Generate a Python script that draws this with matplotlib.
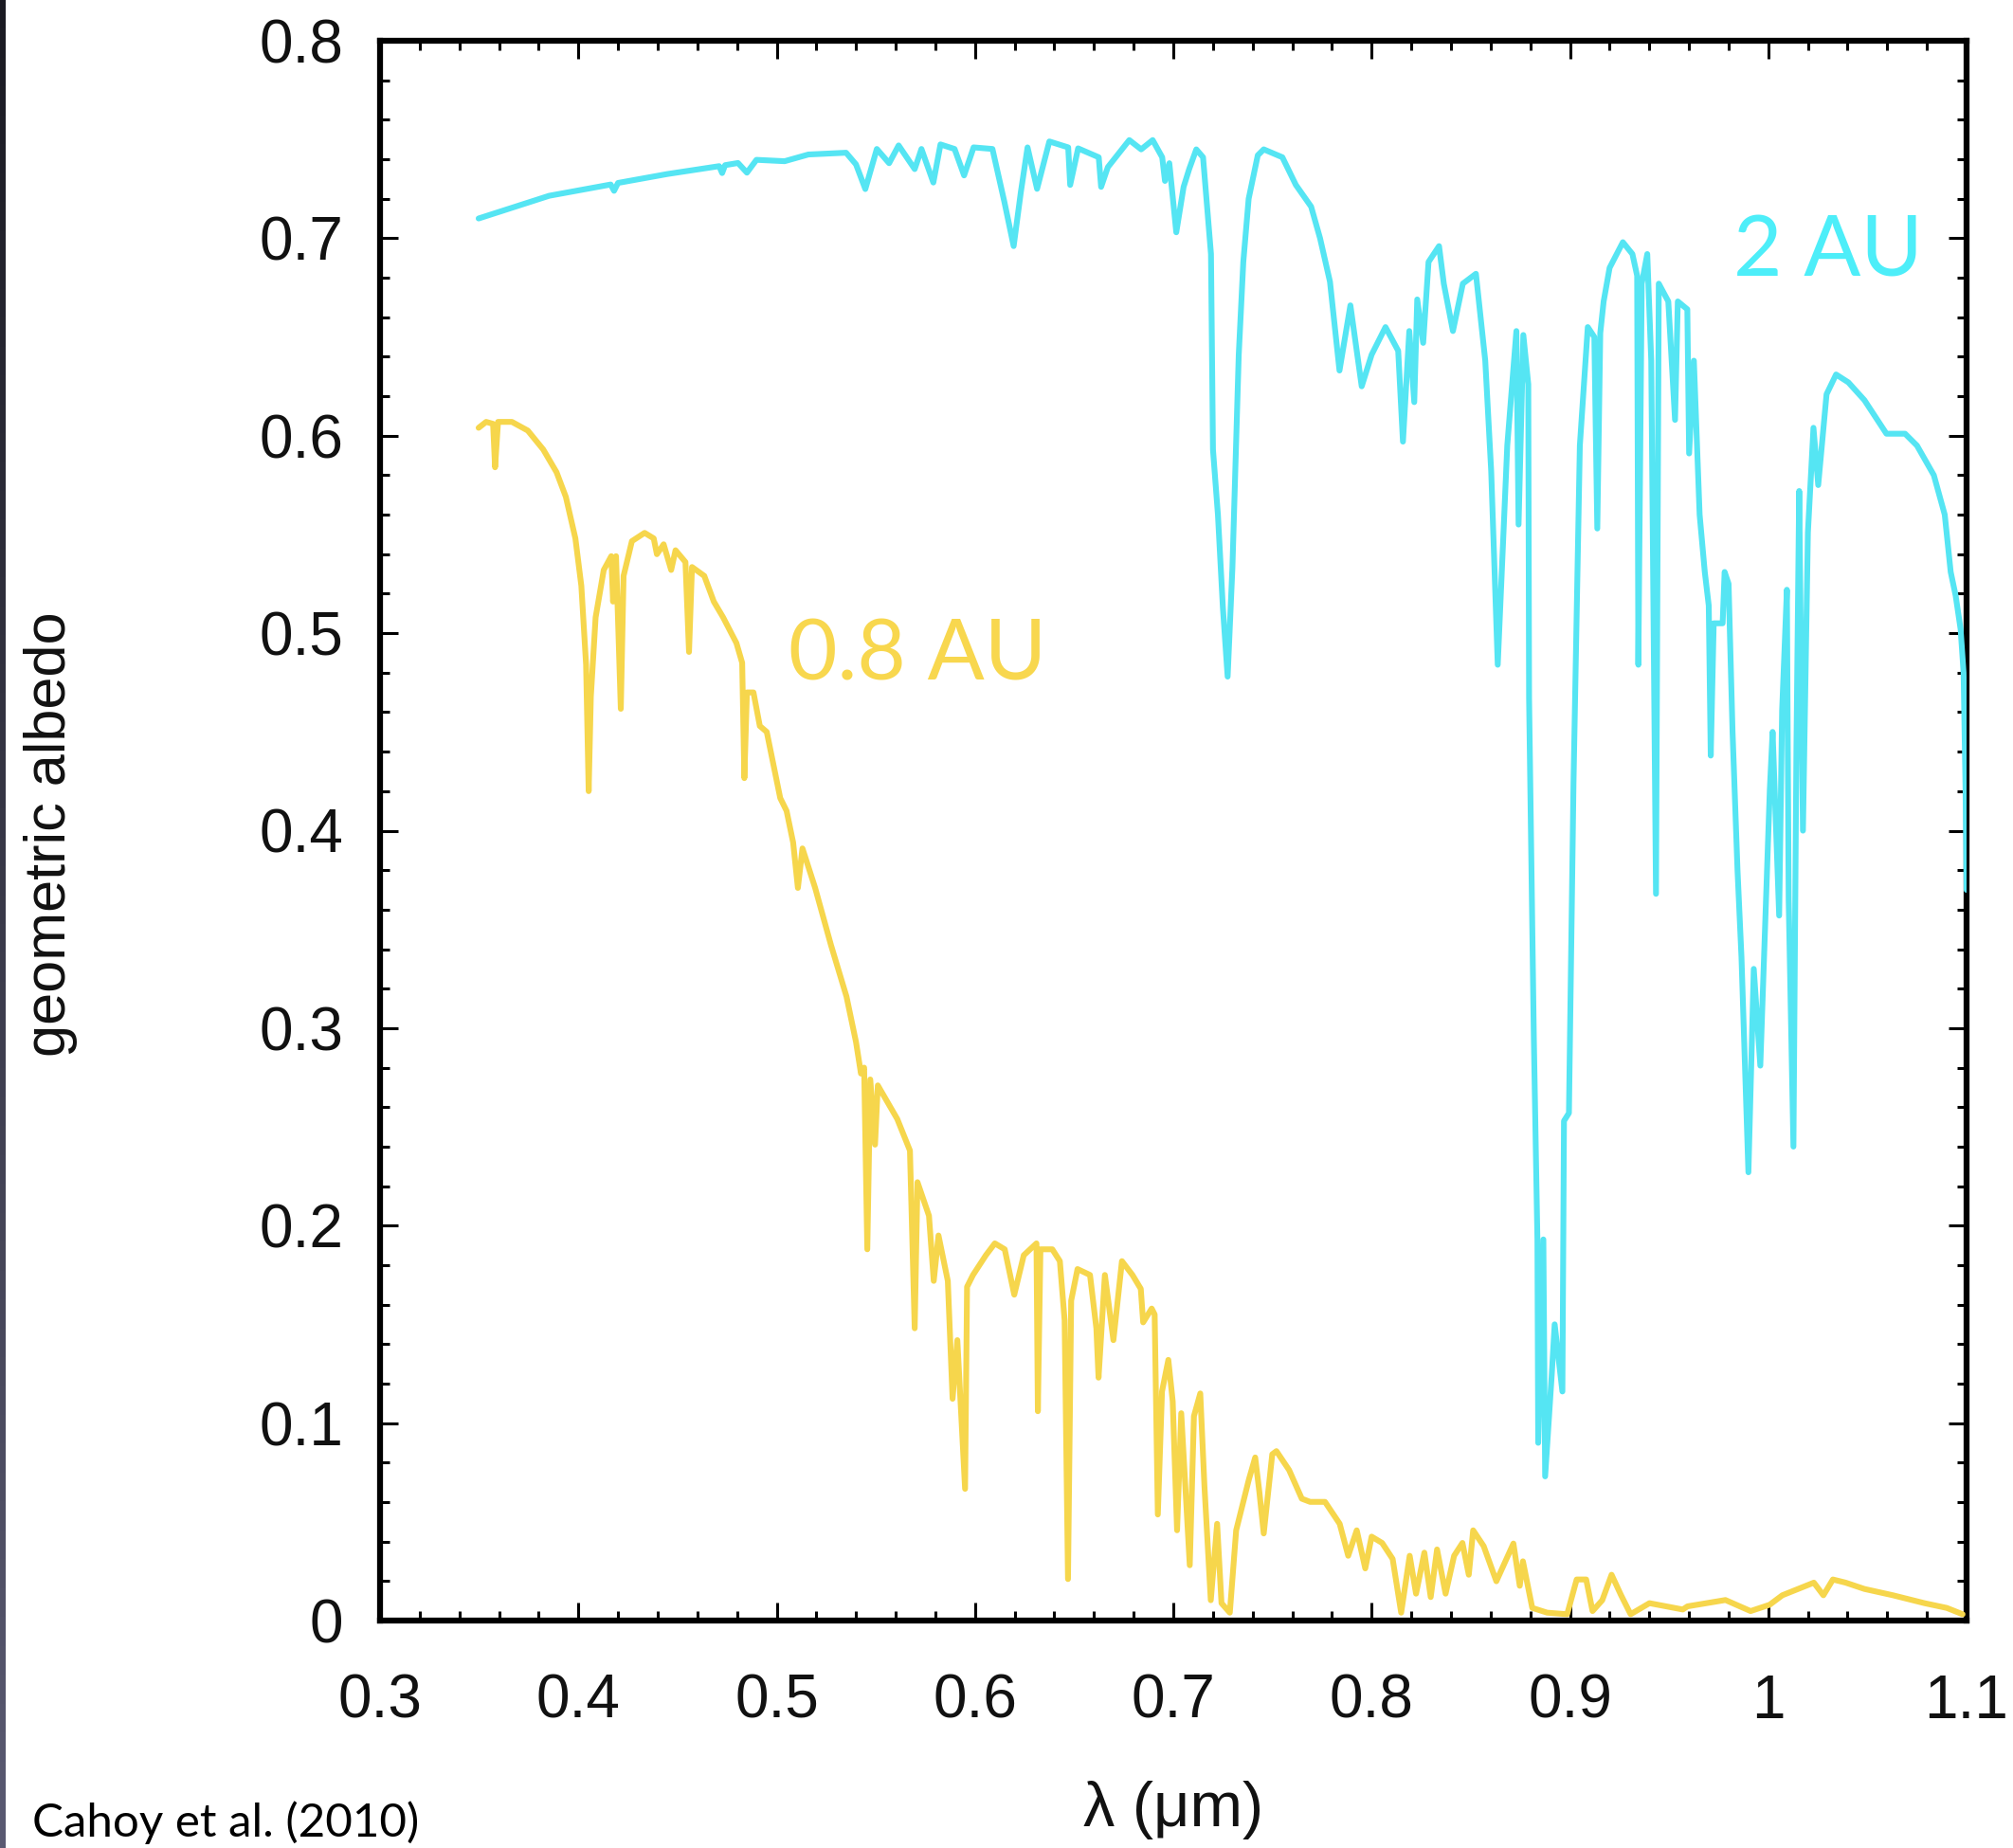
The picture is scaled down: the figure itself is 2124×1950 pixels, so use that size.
import numpy as np
import matplotlib
matplotlib.use("Agg")
import matplotlib.pyplot as plt
from matplotlib.ticker import MultipleLocator, FuncFormatter

# ---------------- data ----------------
wl_2au = [0.3497, 0.3853, 0.4163, 0.418, 0.420, 0.4448, 0.471, 0.4725, 0.474, 0.4805,
          0.485, 0.4898, 0.504, 0.516, 0.535, 0.540, 0.5447, 0.5505, 0.5567, 0.5615,
          0.5696, 0.573, 0.579, 0.5826, 0.5897, 0.5945, 0.5993, 0.6088, 0.6148, 0.6195,
          0.6231, 0.6265, 0.6313, 0.6375, 0.647, 0.648, 0.652, 0.6624, 0.6636, 0.667,
          0.6778, 0.6838, 0.6896, 0.6944, 0.6958, 0.698, 0.7015, 0.7052, 0.708, 0.7116,
          0.715, 0.719, 0.720, 0.7225, 0.725, 0.7274, 0.7298, 0.733, 0.7353, 0.738,
          0.7426, 0.7456, 0.755, 0.7618, 0.7695, 0.774, 0.779, 0.7838, 0.7893, 0.795,
          0.800, 0.807, 0.8134, 0.8158, 0.819, 0.8215, 0.823, 0.826, 0.8287, 0.834,
          0.8364, 0.841, 0.846, 0.8526, 0.8573, 0.8603, 0.8636, 0.8684, 0.873, 0.8741,
          0.8765, 0.879, 0.8794, 0.8818, 0.8836, 0.8840, 0.8866, 0.8875, 0.8908, 0.8923,
          0.8962, 0.897, 0.8995, 0.9018, 0.905, 0.909, 0.9123, 0.9138, 0.9153, 0.917,
          0.920, 0.9267, 0.9315, 0.9339, 0.9345, 0.9362, 0.939, 0.941, 0.9434, 0.9448,
          0.9496, 0.953, 0.9544, 0.9592, 0.9601, 0.9625, 0.9654, 0.968, 0.970, 0.971,
          0.9725, 0.977, 0.978, 0.980, 0.982, 0.9845, 0.9865, 0.990, 0.9927, 0.996,
          1.0008, 1.0022, 1.0055, 1.007, 1.0094, 1.0103, 1.0127, 1.0142, 1.0156, 1.0175,
          1.020, 1.0228, 1.0252, 1.0294, 1.0342, 1.0404, 1.0485, 1.0596, 1.069, 1.075,
          1.0835, 1.089, 1.092, 1.0945, 1.097, 1.0985, 1.0995, 1.100]
alb_2au = [0.710, 0.7215, 0.7272, 0.724, 0.728, 0.7325, 0.7365, 0.733, 0.737, 0.7381,
           0.7332, 0.7397, 0.739, 0.7424, 0.7433, 0.7374, 0.7249, 0.7452, 0.738, 0.747,
           0.735, 0.7452, 0.7282, 0.7475, 0.7452, 0.7318, 0.746, 0.7452, 0.7185, 0.696,
           0.7232, 0.746, 0.725, 0.749, 0.746, 0.727, 0.7455, 0.741, 0.726, 0.736,
           0.7497, 0.745, 0.7497, 0.741, 0.729, 0.738, 0.703, 0.726, 0.735, 0.745,
           0.741, 0.692, 0.593, 0.560, 0.513, 0.478, 0.533, 0.641, 0.688, 0.720,
           0.742, 0.745, 0.741, 0.727, 0.716, 0.700, 0.678, 0.633, 0.666, 0.625,
           0.641, 0.655, 0.643, 0.597, 0.653, 0.617, 0.669, 0.647, 0.688, 0.696,
           0.677, 0.653, 0.677, 0.682, 0.638, 0.582, 0.484, 0.595, 0.653, 0.555,
           0.651, 0.626, 0.467, 0.295, 0.193, 0.090, 0.193, 0.073, 0.124, 0.150,
           0.116, 0.253, 0.257, 0.424, 0.595, 0.655, 0.650, 0.553, 0.652, 0.668,
           0.685, 0.698, 0.692, 0.681, 0.484, 0.677, 0.692, 0.638, 0.368, 0.677,
           0.668, 0.608, 0.668, 0.664, 0.591, 0.638, 0.560, 0.531, 0.514, 0.438,
           0.505, 0.505, 0.531, 0.525, 0.450, 0.380, 0.336, 0.227, 0.330, 0.281,
           0.421, 0.450, 0.357, 0.461, 0.522, 0.365, 0.240, 0.441, 0.572, 0.400,
           0.551, 0.604, 0.575, 0.621, 0.631, 0.627, 0.618, 0.601, 0.601, 0.595,
           0.580, 0.560, 0.531, 0.519, 0.502, 0.480, 0.420, 0.370]

wl_08au = [0.3497, 0.3535, 0.3570, 0.3580, 0.3595, 0.3665, 0.3745, 0.3823, 0.389, 0.3937,
           0.3985, 0.4015, 0.4039, 0.4052, 0.4063, 0.4087, 0.4128, 0.4166, 0.4175, 0.419,
           0.4214, 0.4228, 0.427, 0.4334, 0.438, 0.4396, 0.443, 0.4468, 0.449, 0.454,
           0.4558, 0.4573, 0.4635, 0.4683, 0.473, 0.4797, 0.4826, 0.4837, 0.485, 0.4883,
           0.4915, 0.4950, 0.5018, 0.5050, 0.5083, 0.5107, 0.513, 0.5194, 0.5274, 0.5352,
           0.540, 0.5425, 0.5441, 0.5457, 0.5472, 0.5496, 0.551, 0.5608, 0.5672, 0.5696,
           0.571, 0.5768, 0.5792, 0.5816, 0.5863, 0.5887, 0.5911, 0.595, 0.596, 0.599,
           0.6055, 0.610, 0.615, 0.6198, 0.6246, 0.631, 0.6317, 0.633, 0.639, 0.6428,
           0.6452, 0.6469, 0.6485, 0.6517, 0.658, 0.6612, 0.6623, 0.6655, 0.6698, 0.6741,
           0.6794, 0.6836, 0.6848, 0.6891, 0.6906, 0.6922, 0.6943, 0.6975, 0.6997, 0.7019,
           0.704, 0.7083, 0.7104, 0.7136, 0.7157, 0.7189, 0.7221, 0.7243, 0.7285, 0.7317,
           0.7349, 0.7381, 0.7413, 0.7434, 0.7456, 0.7499, 0.752, 0.7584, 0.7648, 0.769,
           0.7765, 0.7839, 0.7882, 0.7925, 0.7968, 0.800, 0.8053, 0.8106, 0.8149, 0.8192,
           0.8224, 0.8266, 0.8298, 0.833, 0.8373, 0.8416, 0.8458, 0.849, 0.8512, 0.8565,
           0.8629, 0.8715, 0.8747, 0.8763, 0.881, 0.8885, 0.8986, 0.9034, 0.9082, 0.9114,
           0.9163, 0.921, 0.9258, 0.9306, 0.9401, 0.9569, 0.9593, 0.9784, 0.9911, 1.0007,
           1.0071, 1.015, 1.023, 1.0278, 1.0326, 1.039, 1.0485, 1.0629, 1.0788, 1.090,
           1.098]
alb_08au = [0.604, 0.607, 0.606, 0.584, 0.607, 0.607, 0.6026, 0.593, 0.5815, 0.569,
            0.548, 0.524, 0.484, 0.420, 0.468, 0.508, 0.532, 0.539, 0.516, 0.539,
            0.4617, 0.529, 0.5466, 0.5508, 0.548, 0.540, 0.545, 0.532, 0.542, 0.536,
            0.4905, 0.5335, 0.529, 0.516, 0.508, 0.495, 0.485, 0.4266, 0.470, 0.470,
            0.453, 0.450, 0.4165, 0.410, 0.394, 0.371, 0.391, 0.371, 0.342, 0.316,
            0.293, 0.277, 0.280, 0.188, 0.274, 0.241, 0.271, 0.254, 0.238, 0.148,
            0.222, 0.205, 0.172, 0.195, 0.172, 0.1123, 0.142, 0.0667, 0.169, 0.175,
            0.185, 0.191, 0.188, 0.165, 0.185, 0.191, 0.106, 0.188, 0.188, 0.182,
            0.152, 0.021, 0.162, 0.178, 0.175, 0.148, 0.123, 0.175, 0.142, 0.182,
            0.175, 0.168, 0.151, 0.158, 0.155, 0.0537, 0.116, 0.132, 0.111, 0.0457,
            0.105, 0.028, 0.1035, 0.115, 0.0682, 0.0103, 0.049, 0.0088, 0.004, 0.0457,
            0.0585, 0.0714, 0.0826, 0.0651, 0.0441, 0.0842, 0.0858, 0.0762, 0.0617, 0.0601,
            0.0601, 0.049, 0.0328, 0.0457, 0.0264, 0.0425, 0.0393, 0.0312, 0.004, 0.0328,
            0.0136, 0.0344, 0.0119, 0.036, 0.0136, 0.0328, 0.0393, 0.0232, 0.0457, 0.0377,
            0.0199, 0.039, 0.0176, 0.030, 0.0064, 0.004, 0.0032, 0.0208, 0.0208, 0.0048,
            0.0103, 0.0232, 0.0128, 0.0032, 0.0088, 0.0056, 0.0072, 0.0104, 0.0048, 0.008,
            0.0128, 0.016, 0.0192, 0.0128, 0.0208, 0.0192, 0.016, 0.0128, 0.0088, 0.0064,
            0.0032]

x_ticks = [0.3, 0.4, 0.5, 0.6, 0.7, 0.8, 0.9, 1.0, 1.1]
y_ticks = [0, 0.1, 0.2, 0.3, 0.4, 0.5, 0.6, 0.7, 0.8]

CYAN = "#55E5F3"
YELLOW = "#F6D64C"

# ---------------- figure ----------------
W, H = 2124, 1950
fig = plt.figure(figsize=(W / 100, H / 100), dpi=100)
fig.patch.set_facecolor("white")

L, R, T, B = 401, 2075, 43, 1710
ax = fig.add_axes([L / W, 1 - B / H, (R - L) / W, (B - T) / H])

ax.plot(wl_2au, alb_2au, color=CYAN, lw=4.4, solid_joinstyle="round",
        solid_capstyle="round", zorder=3)
ax.plot(wl_08au, alb_08au, color=YELLOW, lw=4.4, solid_joinstyle="round",
        solid_capstyle="round", zorder=3)

ax.set_xlim(0.3, 1.1)
ax.set_ylim(0, 0.8)
ax.set_xticks(x_ticks)
ax.set_yticks(y_ticks)
ax.xaxis.set_minor_locator(MultipleLocator(0.02))
ax.yaxis.set_minor_locator(MultipleLocator(0.02))
fmt = FuncFormatter(lambda v, p: ("%.1f" % v).rstrip("0").rstrip(".") if v != 0 else "0")
ax.xaxis.set_major_formatter(fmt)
ax.yaxis.set_major_formatter(fmt)

tick_font = "Liberation Sans"
ax.tick_params(which="both", direction="in", top=True, right=True, width=2.2, color="black")
ax.tick_params(which="major", length=14)
ax.tick_params(which="minor", length=7)
ax.tick_params(axis="x", which="major", pad=40, labelsize=46)
ax.tick_params(axis="y", which="major", pad=28, labelsize=46)
for lab in ax.get_xticklabels() + ax.get_yticklabels():
    lab.set_fontfamily(tick_font)
    lab.set_color("#111111")
for s in ax.spines.values():
    s.set_linewidth(4.5)
    s.set_color("black")

# axis labels
fig.text(54 / W, 1 - 880 / H, "geometric albedo", rotation=90, ha="center", va="center",
         fontsize=44, family=tick_font, color="#111111")
fig.text(1238 / W, 1 - 1910 / H, "λ (μm)", ha="center", va="center",
         fontsize=48, family=tick_font, color="#111111")

# annotations
fig.text(1829 / W, 1 - 291 / H, "2 AU", ha="left", va="baseline",
         fontsize=64, family="Lato", fontweight="normal", color="#4DEEF9")
fig.text(832 / W, 1 - 718 / H, "0.8 AU", ha="left", va="baseline",
         fontsize=64, family="Lato", fontweight="normal", color="#F8D74E")
fig.text(34 / W, 1 - 1938 / H, "Cahoy et al. (2010)", ha="left", va="baseline",
         fontsize=35.5, family="Lato", color="black")

# dark strip at the very left edge
strip = fig.add_axes([0, 0, 6 / W, 1])
grad = np.linspace(0, 1, 256).reshape(-1, 1)
strip.imshow(grad, aspect="auto", cmap=matplotlib.colors.LinearSegmentedColormap.from_list(
    "edge", ["#1a1a22", "#5a5a72"]), origin="upper")
strip.set_axis_off()

fig.savefig("out.png", dpi=100)
